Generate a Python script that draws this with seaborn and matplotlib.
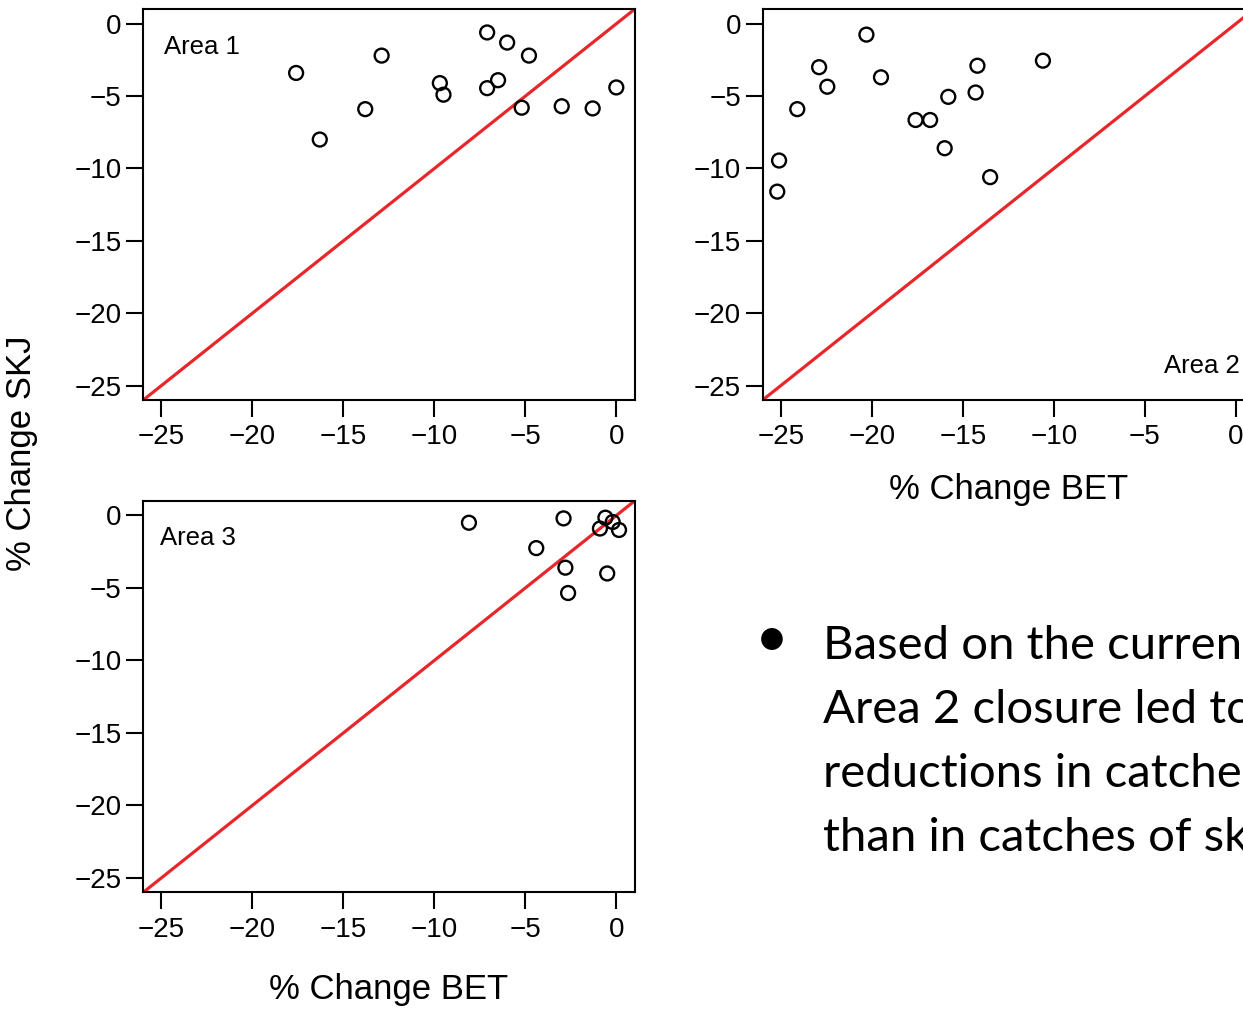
import matplotlib
matplotlib.use("Agg")
import matplotlib.pyplot as plt
import seaborn as sns
import pandas as pd

# ---- data ----
area1_bet = [-17.6, -16.3, -13.8, -12.9, -9.7, -9.5, -7.1, -7.1, -6.5, -6.0, -4.8, -5.2, -3.0, -1.3, 0.0]
area1_skj = [-3.4, -8.0, -5.9, -2.2, -4.1, -4.9, -0.6, -4.45, -3.9, -1.3, -2.2, -5.8, -5.7, -5.85, -4.4]

area2_bet = [-20.3, -22.9, -22.45, -24.1, -25.1, -25.2, -19.5, -17.6, -16.8, -15.8, -16.0, -14.2, -14.3, -13.5, -10.6]
area2_skj = [-0.75, -3.0, -4.35, -5.9, -9.45, -11.6, -3.7, -6.65, -6.65, -5.05, -8.6, -2.9, -4.75, -10.6, -2.55]

area3_bet = [-8.1, -2.9, -4.4, -2.8, -2.65, -0.6, -0.2, -0.9, 0.15, -0.5]
area3_skj = [-0.5, -0.2, -2.25, -3.6, -5.35, -0.15, -0.45, -0.9, -1.0, -4.0]

ticks = [-25, -20, -15, -10, -5, 0]
area_labels = ["Area 1", "Area 2", "Area 3"]
xlabel = "% Change BET"
ylabel = "% Change SKJ"
bullet_lines = ["Based on the current", "Area 2 closure led to",
                "reductions in catches", "than in catches of skipjack"]

sns.set_style("ticks")
plt.rcParams['font.family'] = ['Liberation Sans', 'DejaVu Sans']
plt.rcParams['axes.unicode_minus'] = True
plt.rcParams['text.color'] = 'black'

W, H = 1243, 1010
fig = plt.figure(figsize=(W / 100, H / 100), dpi=100)

def px_box(l, t, r, b):
    return [l / W, 1 - b / H, (r - l) / W, (b - t) / H]

boxes = [px_box(143.3, 9.3, 634.5, 400), px_box(762.7, 9.3, 1254.0, 400),
         px_box(143.3, 501, 634.5, 892.3)]
datasets = [(area1_bet, area1_skj), (area2_bet, area2_skj), (area3_bet, area3_skj)]
label_pos = [(-24.85, -2.1, 'left'), (0.2, -24.15, 'right'), (-25.1, -2.05, 'left')]

red = '#e8272b'
for i, (box, (xs, ys)) in enumerate(zip(boxes, datasets)):
    ax = fig.add_axes(box)
    df = pd.DataFrame({"bet": xs, "skj": ys})
    ax.axline((0, 0), slope=1, color=red, lw=2.3, zorder=1)
    sns.scatterplot(data=df, x="bet", y="skj", ax=ax, marker='o', s=100,
                    color='black', facecolor='none', edgecolor='black',
                    linewidth=1.7, zorder=3, legend=False)
    ax.set_xlim(-26, 1)
    ax.set_ylim(-26, 1)
    ax.set_xticks(ticks)
    ax.set_yticks(ticks)
    ax.set_xlabel("")
    ax.set_ylabel("")
    for sp in ax.spines.values():
        sp.set_visible(True)
        sp.set_linewidth(1.5)
        sp.set_color('black')
    ax.tick_params(axis='both', length=12, width=1.5, labelsize=20,
                   color='black', labelcolor='black')
    ax.tick_params(axis='x', pad=5.5)
    ax.tick_params(axis='y', pad=3.6)
    lx, ly, ha = label_pos[i]
    ax.text(lx, ly, area_labels[i], ha=ha, va='baseline', fontsize=18.5, color='black')

# axis titles
fig.text(1008.5 / W, 1 - 499 / H, xlabel, ha='center', va='baseline', fontsize=25)
fig.text(389 / W, 1 - 999 / H, xlabel, ha='center', va='baseline', fontsize=25)
fig.text(22 / W, 1 - 453 / H, ylabel, ha='center', va='center', rotation=90, fontsize=25)

# bullet text
fig.text(771.5 / W, 1 - 640.5 / H, "\u2022", ha='center', va='center', fontsize=42,
         family=['Lato', 'DejaVu Sans'], color='black')
for k, line in enumerate(bullet_lines):
    fig.text(823 / W, 1 - (659 + 64 * k) / H, line, ha='left', va='baseline',
             fontsize=34, family=['Lato', 'DejaVu Sans'], color='black')

fig.savefig("out.png", dpi=100)
